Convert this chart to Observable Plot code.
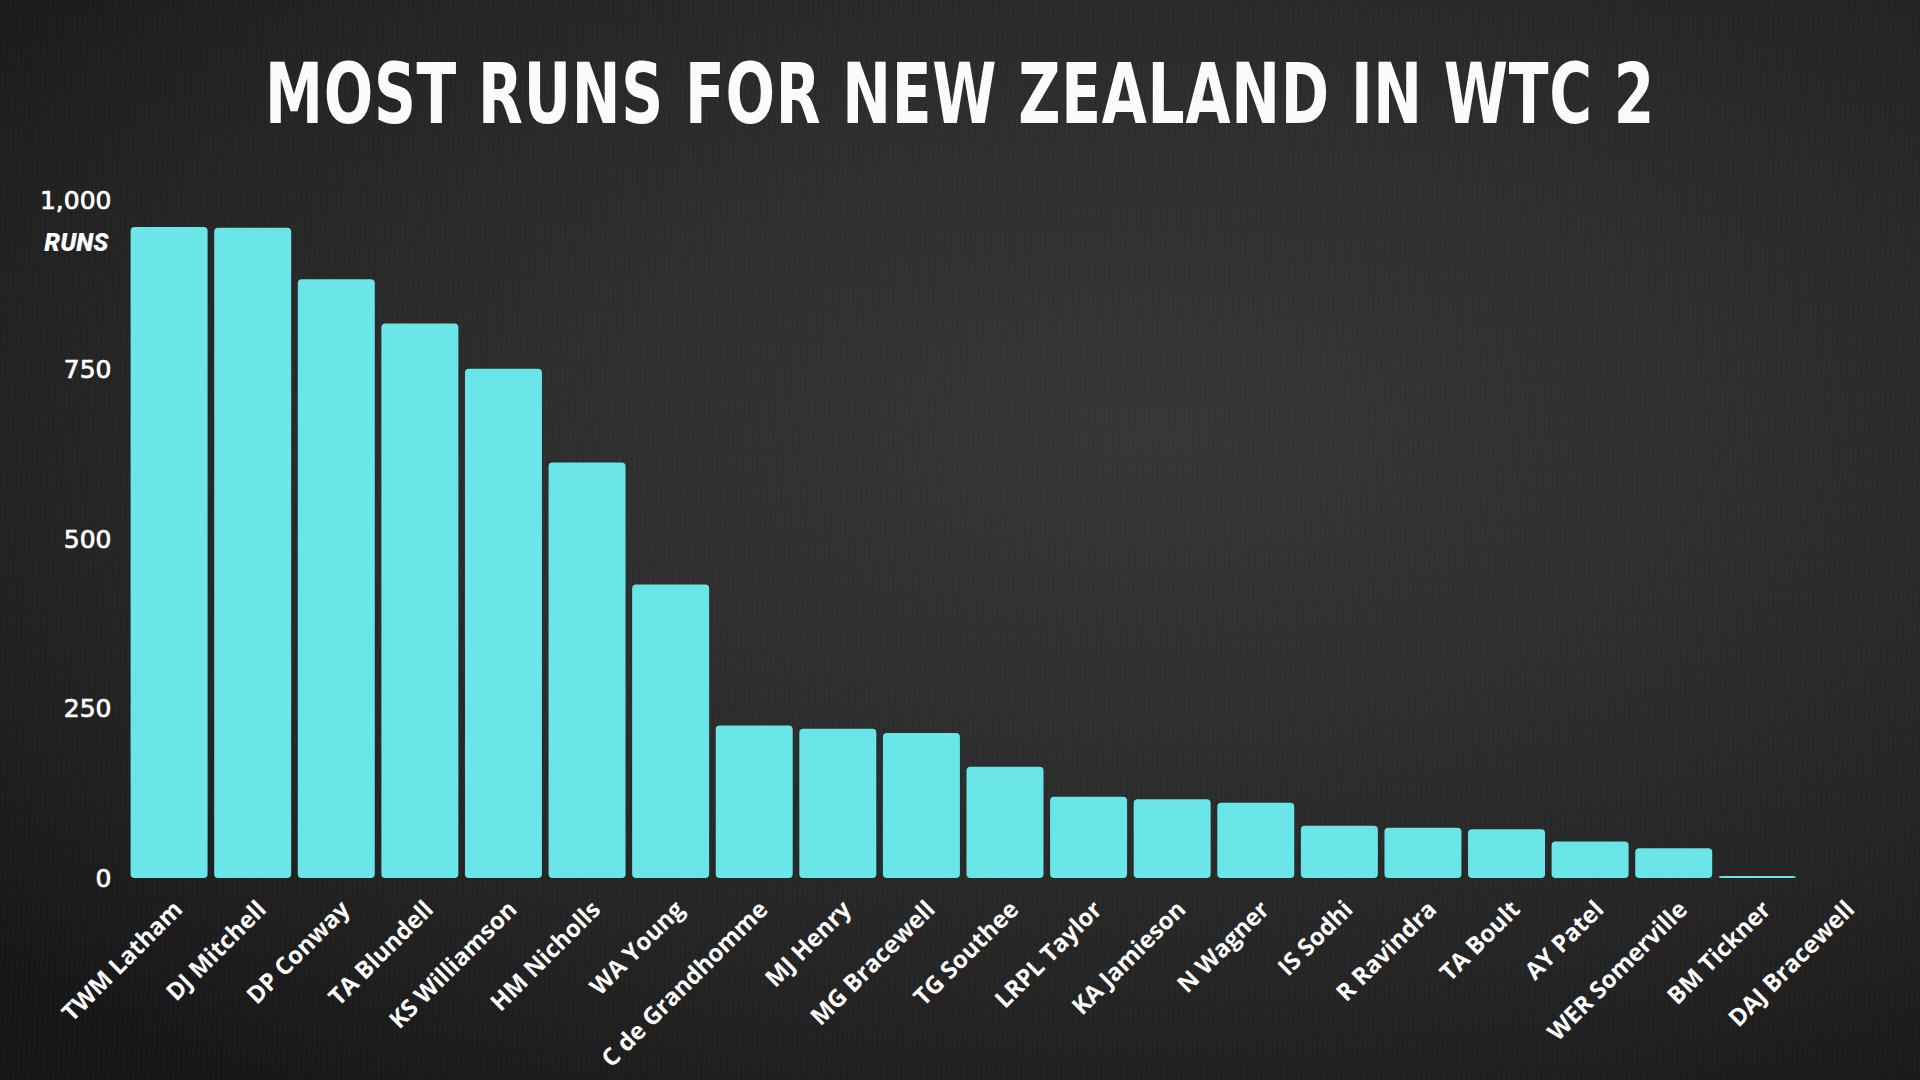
<!DOCTYPE html>
<html>
<head>
<meta charset="utf-8">
<script src="https://cdn.jsdelivr.net/npm/d3@7"></script>
<script src="https://cdn.jsdelivr.net/npm/@observablehq/plot@0.6"></script>
<style>
  html, body { margin: 0; padding: 0; }
  body { width: 1920px; height: 1080px; overflow: hidden; background: #1a1a1a; }
  #wrap {
    position: relative; width: 1920px; height: 1080px; overflow: hidden;
    background:
      repeating-linear-gradient(92deg, rgba(255,255,255,0.018) 0px, rgba(255,255,255,0.018) 1px, rgba(0,0,0,0) 2px, rgba(0,0,0,0) 5px),
      radial-gradient(ellipse 80% 75% at 60% 40%, #363636 0%, #2d2d2d 40%, #222 75%, #161616 100%);
  }
  #title {
    height: 150px; position: relative;
  }
  #title span {
    position: absolute; left: 960px; top: 94px;
    font-family: "DejaVu Sans Condensed", "Liberation Sans Narrow", sans-serif;
    font-weight: bold; font-size: 84px; color: #fbfbfb; white-space: nowrap;
    line-height: 1; letter-spacing: 1px;
    transform-origin: 0 0;
  }
  #chart svg { display: block; }
  #chart svg g[aria-label="y-axis tick label"] text { stroke: #ffffff; stroke-width: 0.7px; }
</style>
</head>
<body>
<div id="wrap">
  <div id="title"><span id="tt">MOST RUNS FOR NEW ZEALAND IN WTC 2</span></div>
  <div id="chart"></div>
</div>
<script>
const players = [
  "TWM Latham", "DJ Mitchell", "DP Conway", "TA Blundell", "KS Williamson",
  "HM Nicholls", "WA Young", "C de Grandhomme", "MJ Henry", "MG Bracewell",
  "TG Southee", "LRPL Taylor", "KA Jamieson", "N Wagner", "IS Sodhi",
  "R Ravindra", "TA Boult", "AY Patel", "WER Somerville", "BM Tickner", "DAJ Bracewell"
];
const runs = [
  960, 959, 883, 818, 751,
  613, 433, 225, 220, 214,
  164, 120, 116, 111, 77,
  74, 72, 54, 44, 3, 0
];
const yTicks = [0, 250, 500, 750, 1000];
const yLabel = "RUNS";
const titleText = "MOST RUNS FOR NEW ZEALAND IN WTC 2";

document.getElementById("tt").textContent = titleText;

const data = players.map((p, i) => ({player: p, runs: runs[i]}));

const chart = Plot.plot({
  width: 1920,
  height: 930,
  marginLeft: 124,
  marginRight: 34,
  marginTop: 50,
  marginBottom: 202,
  style: {background: "transparent", color: "#ffffff", fontFamily: "'Open Sans', sans-serif", overflow: "visible"},
  x: {domain: players, padding: 0.079, round: false, label: null},
  y: {domain: [0, 1000], label: null},
  marks: [
    Plot.barY(data, {x: "player", y: "runs", fill: "#6ae6e8", rx: 4}),
    Plot.axisY({ticks: yTicks, tickFormat: d3.format(","), tickSize: 0, tickPadding: 13, fontSize: 25, fontFamily: "'DejaVu Sans', sans-serif", fill: "#ffffff", label: null}),
    Plot.axisX({tickRotate: -45, tickSize: 0, tickPadding: 27, dx: 9, fontSize: 24, fontWeight: 700, fill: "#ffffff", label: null}),
    Plot.text([yLabel], {frameAnchor: "top-left", dx: -16, dy: 50, textAnchor: "end", lineAnchor: "bottom", fontSize: 25, fontWeight: 900, fontStyle: "italic", fill: "#ffffff", fontFamily: "Roboto, sans-serif"})
  ]
});
document.getElementById("chart").appendChild(chart);

// fit title to reference width and vertical position
const tt = document.getElementById("tt");
const r = tt.getBoundingClientRect();
const targetW = 1390;
const sx = targetW / r.width;
tt.style.transform = `translate(${-targetW / 2}px, ${-r.height / 2}px) scale(${sx}, 1)`;
</script>
</body>
</html>
